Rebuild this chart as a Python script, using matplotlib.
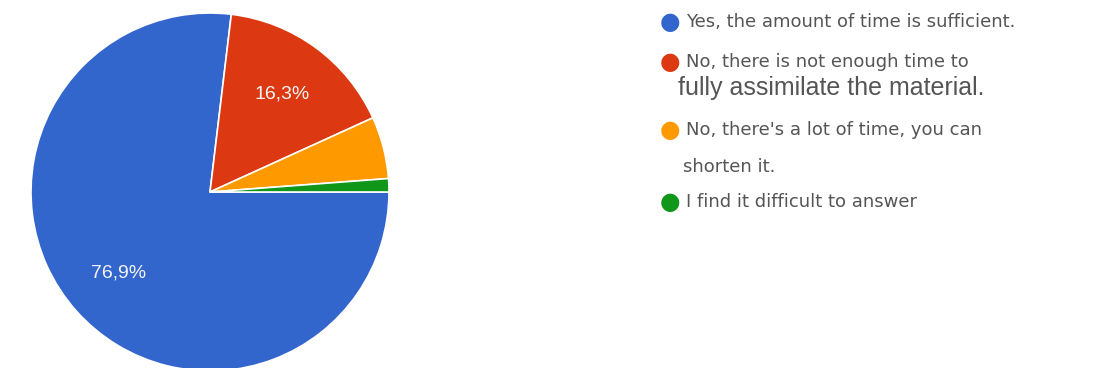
import matplotlib
matplotlib.use("Agg")
import matplotlib.pyplot as plt

# Survey answers (Google Forms style pie)
answers = [
    "Yes, the amount of time is sufficient.",
    "No, there is not enough time to",
    "No, there's a lot of time, you can",
    "I find it difficult to answer",
]
answer_extra = ["", "fully assimilate the material.", "shorten it.", ""]
shares = [76.9, 16.3, 5.6, 1.2]
colors = ["#3366CC", "#DC3912", "#FF9900", "#109618"]

W, H = 1104, 368
fig = plt.figure(figsize=(W / 100, H / 100), dpi=100)
fig.patch.set_facecolor("white")

# pie axes: square box in pixels, centre ~ (210, 192), radius ~179
cx, cy, r = 210, 192, 179
ax = fig.add_axes([(cx - r) / W, (H - cy - r) / H, 2 * r / W, 2 * r / H])


def pct_label(p):
    if p < 10:
        return ""
    return ("%.1f%%" % p).replace(".", ",")


wedges, texts, autotexts = ax.pie(
    shares, colors=colors, startangle=0, counterclock=False,
    autopct=pct_label, pctdistance=0.68,
    wedgeprops=dict(edgecolor="white", linewidth=1.2),
    textprops=dict(color="#f4f4f4", fontsize=14, family="Liberation Sans"),
)
ax.set_xlim(-1, 1)
ax.set_ylim(-1, 1)
ax.axis("off")

# legend drawn by hand to match the two-line layout
legend_y = [22, 62, 130, 202]
extra_y = [None, 88, 167, None]
marker_x = 670
text_x = 686
for i in range(len(answers)):
    fig.text(marker_x / W, 1 - legend_y[i] / H, "\u25CF", color=colors[i],
             fontsize=17, ha="center", va="center", family="DejaVu Sans")
    fig.text(text_x / W, 1 - legend_y[i] / H, answers[i], color="#555555",
             fontsize=13, ha="left", va="center", family="DejaVu Sans")
    if answer_extra[i]:
        big = i == 1
        fig.text((678 if big else 683) / W, 1 - extra_y[i] / H, answer_extra[i],
                 color="#555555", fontsize=18 if big else 13, ha="left",
                 va="center", family="Liberation Sans" if big else "DejaVu Sans")

fig.savefig("out.png", dpi=100, facecolor="white")
